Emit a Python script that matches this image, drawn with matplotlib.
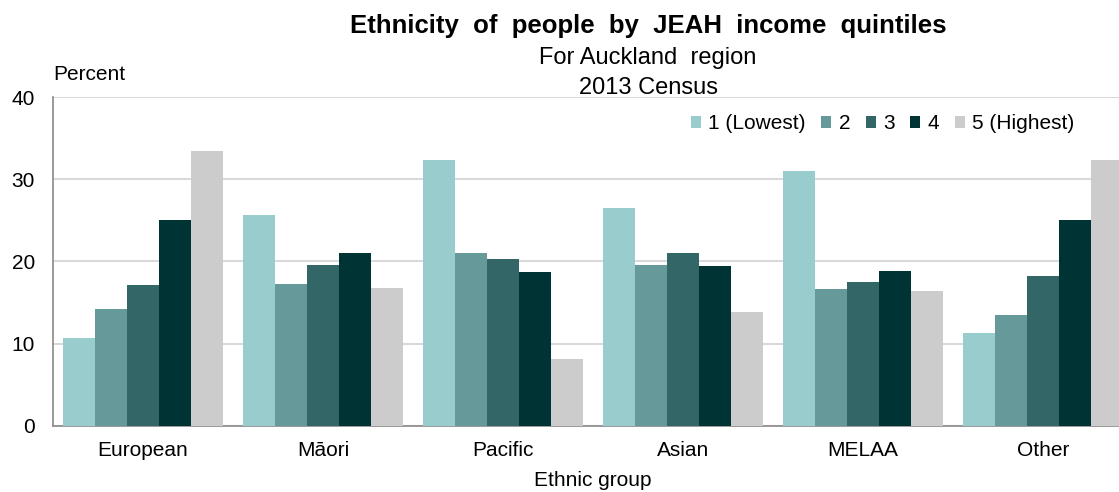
import matplotlib.pyplot as plt
import numpy as np

plt.rcParams['font.family'] = ['Liberation Sans', 'DejaVu Sans']

groups = ["European", "Māori", "Pacific", "Asian", "MELAA", "Other"]
quintiles = ["1 (Lowest)", "2", "3", "4", "5 (Highest)"]
q1 = [10.7, 25.7, 32.4, 26.5, 31.0, 11.3]
q2 = [14.2, 17.3, 21.0, 19.6, 16.6, 13.5]
q3 = [17.1, 19.6, 20.3, 21.0, 17.5, 18.2]
q4 = [25.0, 21.0, 18.7, 19.5, 18.8, 25.1]
q5 = [33.4, 16.8, 8.1, 13.8, 16.4, 32.4]
series = [q1, q2, q3, q4, q5]
colours = ["#99CCCC", "#669999", "#336666", "#003333", "#CCCCCC"]

W, H = 1119, 492
fig = plt.figure(figsize=(W / 100, H / 100), dpi=100)
# plot area runs a little past the right edge of the figure
ax = fig.add_axes([53 / W, 66.4 / H, 1080 / W, 328.3 / H])

x = np.arange(len(groups))
bw = 0.178
for i, (vals, col, lab) in enumerate(zip(series, colours, quintiles)):
    ax.bar(x + (i - 2) * bw, vals, bw, color=col, label=lab, linewidth=0, zorder=3)

ax.set_xlim(-0.5, len(groups) - 0.5)
ax.set_ylim(0, 40)
ax.set_yticks([0, 10, 20, 30, 40])
ax.set_xticks(x)
ax.set_xticklabels(groups)
ax.tick_params(axis='both', length=0, labelsize=15)
ax.tick_params(axis='x', pad=11)
ax.tick_params(axis='y', pad=13)
ax.yaxis.grid(True, color="#D9D9D9", linewidth=1.5, zorder=0)
ax.set_axisbelow(True)
for s in ("top", "right"):
    ax.spines[s].set_visible(False)
for s in ("left", "bottom"):
    ax.spines[s].set_color("#898989")
    ax.spines[s].set_linewidth(1.2)

# axis titles
fig.text(593 / W, 1 - 486 / H, "Ethnic group", fontsize=15, ha="center", va="baseline")
fig.text(53 / W, 1 - 75 / H, "Percent", fontsize=15, va="center", ha="left")

# heading block
fig.text(648 / W, 1 - 33 / H, "Ethnicity  of  people  by  JEAH  income  quintiles",
         fontsize=18.5, fontweight="bold", ha="center", va="baseline")
fig.text(648 / W, 1 - 64 / H, "For Auckland  region", fontsize=17,
         ha="center", va="baseline")
fig.text(648 / W, 1 - 94 / H, "2013 Census", fontsize=17,
         ha="center", va="baseline")

ax.legend(loc="center left", bbox_to_anchor=((691 - 53) / 1080, 0.919),
          ncol=5, frameon=False, fontsize=15, borderpad=0, borderaxespad=0,
          handlelength=0.48, handleheight=0.48, handletextpad=0.35,
          columnspacing=0.75)

fig.savefig("out.png", dpi=100)
